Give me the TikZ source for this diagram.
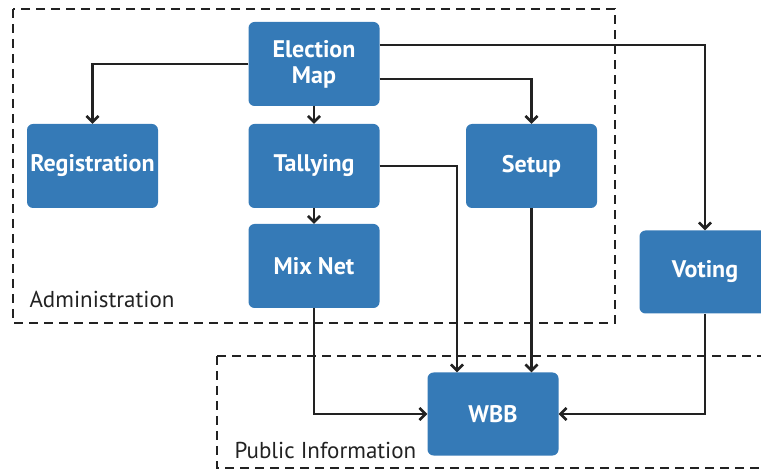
\documentclass[tikz,border=0pt]{standalone}
\usepackage{fontspec}
\setmainfont{PT Sans}
\usetikzlibrary{arrows.meta}
\definecolor{boxblue}{RGB}{53,122,183}
\definecolor{wire}{RGB}{34,34,34}

\begin{document}
\begin{tikzpicture}[x=1pt,y=-1pt,
block/.style={%
anchor=center,
fill=boxblue,
text=white,
font=\fontsize{24}{26}\selectfont\bfseries,
align=center,
minimum width=131pt,
minimum height=84pt,
rounded corners=6pt
},
link/.style={%
draw=wire,line width=2.6pt,-{Straight Barb[length=6pt,width=12pt]}
},
frame/.style={%
draw=wire,line width=2.8pt,dash pattern=on 9pt off 6pt
},
tag/.style={%
anchor=base west,text=wire,font=\fontsize{23}{26}\selectfont
}]
\useasboundingbox (0,0) rectangle (761,470);
\draw[frame] (13,9) rectangle (615,323);
\draw[frame] (217,356) -- (775,356) (217,356) -- (217,468) -- (775,468);
\node[tag]at(26,308)(admin){Administration};
\node[tag]at(231,458)(public){Public Information};
\node[block]at(314,64)(map){Election\\Map};
\node[block]at(92.5,166)(reg){Registration};
\node[block]at(314,166)(tally){Tallying};
\node[block]at(531.5,166)(setup){Setup};
\node[block]at(314,266)(mix){Mix Net};
\node[block,minimum height=83pt]at(705,272)(vote){Voting};
\node[block,minimum height=83pt]at(493,414)(wbb){WBB};
\draw[link] (map.west) -| (reg.north);
\draw[link] (map.south) -- (tally.north);
\draw[link] (tally.south) -- (mix.north);
\draw[link] ([yshift=19pt]map.east) -| (vote.north);
\draw[link] ([yshift=-15pt]map.east) -| (setup.north);
\draw[link] (tally.east) -| ([xshift=-36pt]wbb.north);
\draw[link] (setup.south) -- (setup.south|-wbb.north);
\draw[link] (mix.south) |- (wbb.west);
\draw[link] (vote.south) |- (wbb.east);
\end{tikzpicture}
\end{document}
